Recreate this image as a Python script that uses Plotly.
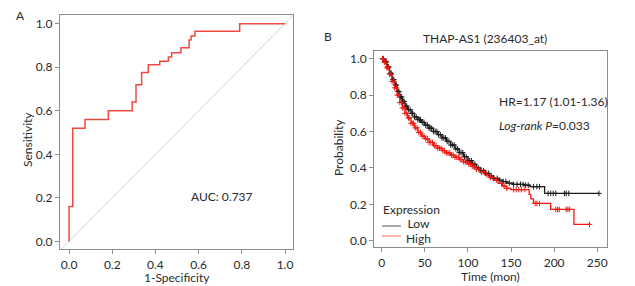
import numpy as np
import plotly.graph_objects as go

# ---------------- Panel A: ROC ----------------
roc_fpr = [0.0, 0.0, 0.017, 0.017, 0.074, 0.074, 0.182, 0.182, 0.292, 0.292, 0.31, 0.31,
           0.336, 0.336, 0.367, 0.367, 0.42, 0.42, 0.46, 0.46, 0.475, 0.475, 0.518, 0.518,
           0.556, 0.556, 0.565, 0.565, 0.583, 0.583, 0.79, 0.79, 1.0]
roc_tpr = [0.0, 0.16, 0.16, 0.52, 0.52, 0.56, 0.56, 0.60, 0.60, 0.64, 0.64, 0.72,
           0.72, 0.776, 0.776, 0.812, 0.812, 0.827, 0.827, 0.847, 0.847, 0.867, 0.867, 0.889,
           0.889, 0.925, 0.925, 0.944, 0.944, 0.965, 0.965, 1.0, 1.0]
auc_text = "AUC: 0.737"
roc_ticks = [0.0, 0.2, 0.4, 0.6, 0.8, 1.0]

# ---------------- Panel B: Kaplan-Meier ----------------
low_t = [0, 3, 6, 9, 12, 15, 18, 21, 24, 27, 30, 34, 38, 42, 46, 50, 55, 60, 65, 70, 75, 80,
         85, 90, 95, 100, 105, 110, 115, 120, 125, 130, 135, 140, 145, 152, 165, 172, 189, 252]
low_s = [1.0, 0.985, 0.955, 0.92, 0.885, 0.855, 0.82, 0.79, 0.765, 0.74, 0.72, 0.70, 0.68,
         0.665, 0.65, 0.635, 0.618, 0.60, 0.583, 0.565, 0.546, 0.526, 0.505, 0.484, 0.462,
         0.44, 0.42, 0.40, 0.385, 0.37, 0.356, 0.343, 0.333, 0.325, 0.317, 0.31, 0.305,
         0.297, 0.26, 0.26]
high_t = [0, 3, 6, 9, 12, 15, 18, 21, 24, 27, 30, 34, 38, 42, 46, 50, 55, 60, 65, 70, 75, 80,
          85, 90, 95, 100, 105, 110, 115, 120, 125, 130, 135, 140, 145, 150, 171, 173, 176,
          196, 223, 241]
high_s = [1.0, 0.98, 0.95, 0.915, 0.875, 0.84, 0.80, 0.76, 0.73, 0.70, 0.675, 0.645, 0.62,
          0.595, 0.575, 0.56, 0.54, 0.522, 0.508, 0.495, 0.482, 0.47, 0.458, 0.446, 0.434,
          0.422, 0.408, 0.392, 0.377, 0.362, 0.347, 0.333, 0.315, 0.30, 0.288, 0.281, 0.255,
          0.23, 0.205, 0.172, 0.09, 0.09]
low_cens = [1, 2, 4, 5, 7, 8, 10, 11, 13, 14, 16, 17, 19, 20, 22, 23, 25, 26, 28, 29, 31, 33,
            35, 36, 38, 40, 42, 44, 45, 47, 49, 51, 53, 55, 57, 58, 60, 62, 64, 66, 68, 70, 72,
            74, 76, 78, 80, 82, 84, 86, 88, 90, 92, 94, 96, 98, 100, 102, 104, 106, 108, 110,
            112, 115, 118, 121, 124, 127, 130, 134, 137, 141, 144, 148, 153, 157, 161, 164,
            167, 170, 176, 180, 183, 193, 196, 199, 202, 212, 214, 217, 252]
high_cens = [1, 2, 3, 5, 6, 8, 9, 11, 12, 14, 15, 17, 18, 20, 21, 23, 24, 26, 27, 29, 31, 32,
             34, 36, 37, 39, 41, 43, 45, 47, 49, 51, 53, 55, 57, 59, 61, 63, 65, 67, 69, 71, 73,
             75, 77, 79, 81, 83, 85, 87, 89, 91, 93, 95, 97, 99, 101, 103, 105, 107, 110, 113,
             116, 119, 122, 126, 129, 133, 139, 142, 145, 153, 156, 159, 162, 166, 178, 180,
             183, 202, 204, 206, 214, 216, 218, 241]
km_title = "THAP-AS1 (236403_at)"
hr_text = "HR=1.17 (1.01-1.36)"
p_text = "<i>Log-rank P</i>=0.033"
legend_title = "Expression"
group_names = ["Low", "High"]
km_xticks = [0, 50, 100, 150, 200, 250]
km_yticks = [0.0, 0.2, 0.4, 0.6, 0.8, 1.0]


def step_at(ts, ss, tq):
    ts = np.asarray(ts, float)
    ss = np.asarray(ss, float)
    idx = np.searchsorted(ts, np.asarray(tq, float), side="right") - 1
    idx = np.clip(idx, 0, len(ss) - 1)
    return ss[idx]


FONT = "Lato, 'Open Sans', sans-serif"
TXT = "#2a2a2a"
AX = "#8c8c8c"
ROC_RED = "#ef4a42"
KM_RED = "#ee1a14"
KM_BLACK = "#1c1c1c"
LEG_BLACK = "#555555"
LEG_RED = "#f06a60"

fig = go.Figure()

fig.add_trace(go.Scatter(x=[-0.05, 1.05], y=[-0.05, 1.05], mode="lines",
                         line=dict(color="#d4d4d4", width=1), showlegend=False,
                         hoverinfo="skip", xaxis="x", yaxis="y"))
fig.add_trace(go.Scatter(x=roc_fpr, y=roc_tpr, mode="lines",
                         line=dict(color=ROC_RED, width=1.5), showlegend=False,
                         xaxis="x", yaxis="y"))

fig.add_trace(go.Scatter(x=low_t, y=low_s, mode="lines", line_shape="hv",
                         line=dict(color=KM_BLACK, width=1.3), name=group_names[0],
                         showlegend=False, xaxis="x2", yaxis="y2"))
fig.add_trace(go.Scatter(x=high_t, y=high_s, mode="lines", line_shape="hv",
                         line=dict(color=KM_RED, width=1.3), name=group_names[1],
                         showlegend=False, xaxis="x2", yaxis="y2"))
fig.add_trace(go.Scatter(x=low_cens, y=step_at(low_t, low_s, low_cens), mode="markers",
                         marker=dict(symbol="cross-thin", size=4, color=KM_BLACK,
                                     line=dict(color=KM_BLACK, width=1)),
                         showlegend=False, xaxis="x2", yaxis="y2"))
fig.add_trace(go.Scatter(x=high_cens, y=step_at(high_t, high_s, high_cens), mode="markers",
                         marker=dict(symbol="cross-thin", size=4, color=KM_RED,
                                     line=dict(color=KM_RED, width=1)),
                         showlegend=False, xaxis="x2", yaxis="y2"))

W, H = 635, 286
OFF = 8  # page body margin offset


def px(x):
    return (x - OFF) / W


def py(y):
    return 1 - (y - OFF) / H


axis_common = dict(showgrid=False, zeroline=False, showline=True, linecolor=AX,
                   linewidth=1.2, mirror=True, ticks="outside", ticklen=4,
                   tickcolor=AX, tickwidth=1,
                   tickfont=dict(family=FONT, size=12, color=TXT))

fig.update_layout(
    width=W, height=H, margin=dict(l=0, r=0, t=0, b=0),
    paper_bgcolor="white", plot_bgcolor="white",
    font=dict(family=FONT, color=TXT),
    showlegend=False,
    xaxis=dict(domain=[px(60), px(293)], range=[-0.042, 1.037], tickvals=roc_ticks,
               ticktext=[f"{v:.1f}" for v in roc_ticks], anchor="y", **axis_common),
    yaxis=dict(domain=[py(249), py(15)], range=[-0.035, 1.04], tickvals=roc_ticks,
               ticktext=[f"{v:.1f}" for v in roc_ticks], anchor="x", **axis_common),
    xaxis2=dict(domain=[px(374.3), px(607.3)], range=[-8.6, 261.7], tickvals=km_xticks,
                anchor="y2", **axis_common),
    yaxis2=dict(domain=[py(247.3), py(50.7)], range=[-0.036, 1.044], tickvals=km_yticks,
                ticktext=[f"{v:.1f}" for v in km_yticks], anchor="x2", **axis_common),
)


def lab(text, x, y, xanchor="center", angle=0, xref="paper", yref="paper", height=None):
    d = dict(text=text, x=x, y=y, xref=xref, yref=yref, showarrow=False,
             xanchor=xanchor, yanchor="middle", textangle=angle,
             font=dict(family=FONT, size=12, color=TXT))
    if height is not None:
        d["height"] = height
    return d


ann = [
    lab("A", px(20), py(15.5)),
    lab("1-Specificity", px(177), py(277)),
    lab("Sensitivity", px(27), py(140), angle=-90),
    lab(auc_text, 0.555, 0.205, xanchor="left", xref="x", yref="y"),
    lab("B", px(328), py(36)),
    lab(km_title, px(485), py(39)),
    lab(hr_text, px(497), py(101), xanchor="left"),
    lab(p_text, px(497), py(125), xanchor="left"),
    lab("Time (mon)", px(490), py(276.5)),
    lab("Probability", px(338), py(148), angle=-90),
    lab(legend_title, px(381), py(209.5), xanchor="left", height=13),
    lab("<br>".join(group_names), px(404), py(230.5), xanchor="left", height=30),
]
shapes = [
    dict(type="line", xref="paper", yref="paper", x0=px(382), x1=px(401),
         y0=py(226), y1=py(226), line=dict(color=LEG_BLACK, width=1)),
    dict(type="line", xref="paper", yref="paper", x0=px(382), x1=px(401),
         y0=py(236), y1=py(236), line=dict(color=LEG_RED, width=1)),
]
fig.update_layout(annotations=ann, shapes=shapes)

fig.write_html("out.html")
